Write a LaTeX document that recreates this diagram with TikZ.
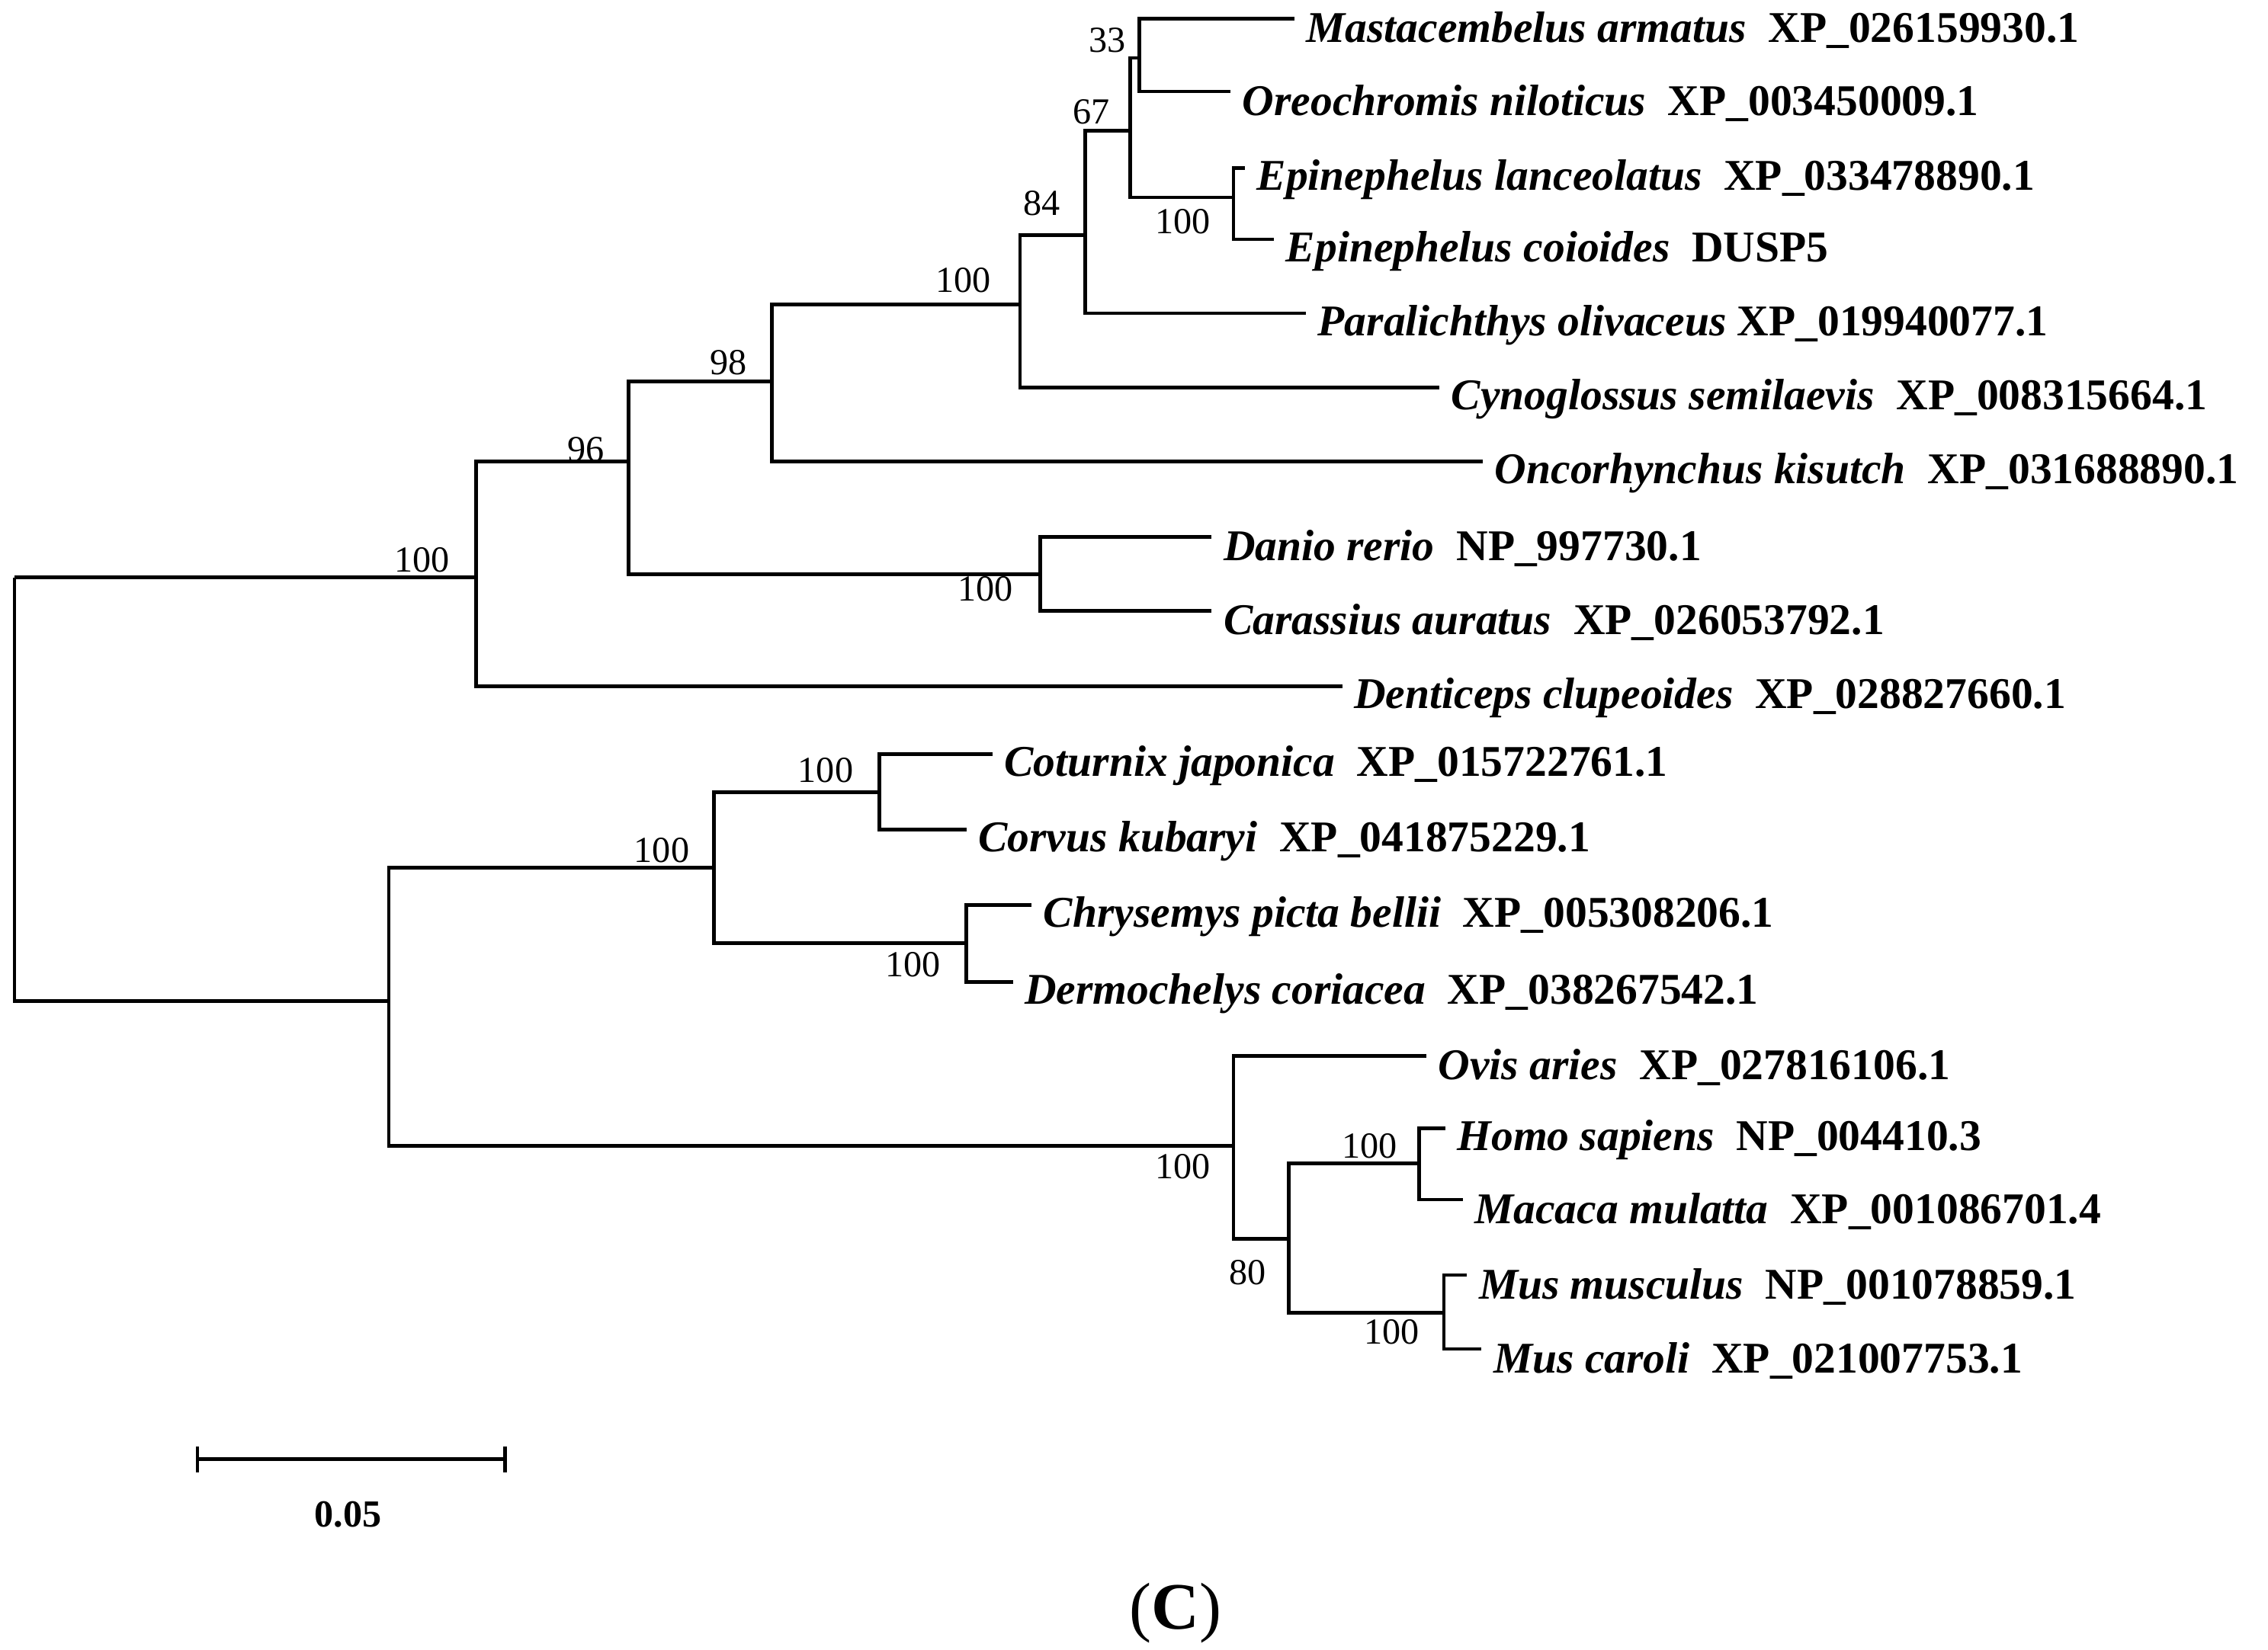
\documentclass[tikz,border=0pt]{standalone}
\usepackage{fontspec}
\setmainfont{Liberation Serif}
\begin{document}
\begin{tikzpicture}[x=0.01cm,y=-0.01cm,line width=0.7pt,
  leaf/.style={anchor=west,inner sep=0pt,font=\fontsize{8.6}{10}\selectfont\bfseries},
  bs/.style={inner sep=0pt,font=\fontsize{7.2}{8}\selectfont}]
\useasboundingbox (0,0) rectangle (1563,1137);
\newcommand{\lf}[4]{\coordinate (#1) at (#2,#3); \node[leaf] (t#1) at (#2+7,#3+8) {#4};}
% top clade
\coordinate (r) at (10,398);
\coordinate (n1) at (328,398);
\coordinate (n2) at (433,318);
\coordinate (n3) at (532,263);
\coordinate (n4) at (703,210);
\coordinate (n5) at (748,162);
\coordinate (n6) at (779,90);
\coordinate (n7) at (785,40);
\coordinate (n8) at (850,136);
\coordinate (n9) at (717,396);
\lf{a}{892}{13}{\textit{Mastacembelus armatus}\ \ XP\_026159930.1}
\lf{b}{848}{63}{\textit{Oreochromis niloticus}\ \ XP\_003450009.1}
\lf{c}{858}{116}{\textit{Epinephelus lanceolatus}\ \ XP\_033478890.1}
\lf{d}{878}{165}{\textit{Epinephelus coioides}\ \ DUSP5}
\lf{e}{900}{216}{\textit{Paralichthys olivaceus}\ XP\_019940077.1}
\lf{f}{992}{267}{\textit{Cynoglossus semilaevis}\ \ XP\_008315664.1}
\lf{g}{1022}{318}{\textit{Oncorhynchus kisutch}\ \ XP\_031688890.1}
\lf{h}{835}{370}{\textit{Danio rerio}\ \ NP\_997730.1}
\lf{i}{835}{421}{\textit{Carassius auratus}\ \ XP\_026053792.1}
\lf{j}{925}{473}{\textit{Denticeps clupeoides}\ \ XP\_028827660.1}
% bottom clade
\coordinate (m1) at (268,690);
\coordinate (m2) at (492,598);
\coordinate (m3) at (606,546);
\coordinate (m4) at (666,650);
\coordinate (m5) at (850,790);
\coordinate (m6) at (888,854);
\coordinate (m7) at (978,802);
\coordinate (m8) at (995,905);
\lf{k}{684}{520}{\textit{Coturnix japonica}\ \ XP\_015722761.1}
\lf{l}{666}{572}{\textit{Corvus kubaryi}\ \ XP\_041875229.1}
\lf{m}{711}{624}{\textit{Chrysemys picta bellii}\ \ XP\_005308206.1}
\lf{n}{698}{677}{\textit{Dermochelys coriacea}\ \ XP\_038267542.1}
\lf{o}{983}{728}{\textit{Ovis aries}\ \ XP\_027816106.1}
\lf{p}{996}{778}{\textit{Homo sapiens}\ \ NP\_004410.3}
\lf{q}{1008}{827}{\textit{Macaca mulatta}\ \ XP\_001086701.4}
\lf{s}{1011}{879}{\textit{Mus musculus}\ \ NP\_001078859.1}
\lf{u}{1021}{930}{\textit{Mus caroli}\ \ XP\_021007753.1}
% branches
\newcommand{\br}[3]{\draw (#1) |- (#2); \draw (#1) |- (#3);}
\br{r}{n1}{m1}
\br{n1}{n2}{j}
\br{n2}{n3}{n9}
\br{n3}{n4}{g}
\br{n4}{n5}{f}
\br{n5}{n6}{e}
\br{n6}{n7}{n8}
\br{n7}{a}{b}
\br{n8}{c}{d}
\br{n9}{h}{i}
\br{m1}{m2}{m5}
\br{m2}{m3}{m4}
\br{m3}{k}{l}
\br{m4}{m}{n}
\br{m5}{o}{m6}
\br{m6}{m7}{m8}
\br{m7}{p}{q}
\br{m8}{s}{u}
% bootstrap
\node[bs] (b1) at (291,386) {100};
\node[bs] (b2) at (404,310) {96};
\node[bs] (b3) at (502,250) {98};
\node[bs] (b4) at (664,193) {100};
\node[bs] (b5) at (718,140) {84};
\node[bs] (b6) at (752,77) {67};
\node[bs] (b7) at (763,28) {33};
\node[bs] (b8) at (815,153) {100};
\node[bs] (b9) at (679,406) {100};
\node[bs] (b10) at (456,586) {100};
\node[bs] (b11) at (569,531) {100};
\node[bs] (b12) at (629,665) {100};
\node[bs] (b13) at (815,804) {100};
\node[bs] (b14) at (860,877) {80};
\node[bs] (b15) at (944,790) {100};
\node[bs] (b16) at (959,918) {100};
% scale bar
\coordinate (s1) at (136,1006);
\coordinate (s2) at (348,1006);
\draw (s1) -- (s2);
\draw ([yshift=-0.09cm]s1) -- ([yshift=0.09cm]s1);
\draw ([yshift=-0.09cm]s2) -- ([yshift=0.09cm]s2);
\node[bs,font=\fontsize{7.5}{9}\selectfont\bfseries] (sl) at (240,1044) {0.05};
\node[inner sep=0pt,font=\fontsize{13}{15}\selectfont] (cap) at (810,1112) {(\textbf{C})};
\end{tikzpicture}
\end{document}
